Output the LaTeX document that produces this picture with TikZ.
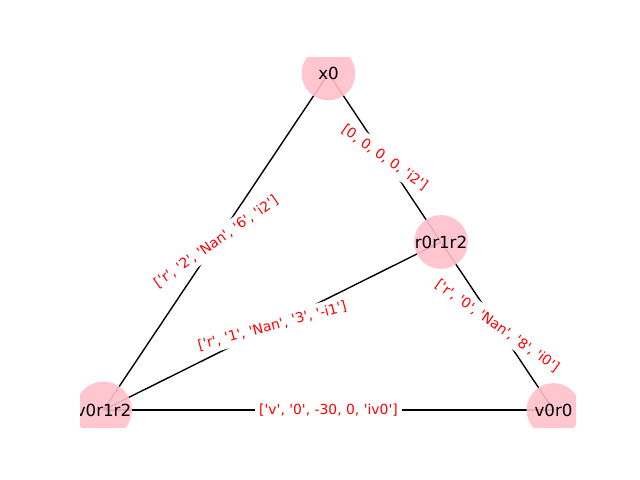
\documentclass[tikz,border=0pt]{standalone}
\usepackage{fontspec}
\setmainfont{DejaVu Sans}
\usetikzlibrary{backgrounds}
\definecolor{nodepink}{HTML}{FFC0CB}
\newcommand\qs{\textquotesingle}
\begin{document}
\begin{tikzpicture}[x=0.72pt,y=-0.72pt,
  nd/.style={circle, fill=nodepink, fill opacity=0.9, text opacity=1, minimum size=38.7pt, inner sep=0pt, font=\fontsize{12}{14}\selectfont},
  edge/.style={black, line width=1pt},
  lab/.style={text=red, fill=white, rounded corners=2pt, inner sep=3pt, font=\fontsize{10}{12}\selectfont}]
\useasboundingbox (0,0) rectangle (640,480);
\begin{scope}
\clip (80,57.5) rectangle (576,427);
\node[nd] (x0) at (328.5,73.5) {x0};
\node[nd] (r) at (441,242) {r0r1r2};
\node[nd] (v1) at (103.5,410) {v0r1r2};
\node[nd] (v0) at (553.5,410) {v0r0};
\end{scope}
\begin{scope}[on background layer]
\draw[edge] (x0.center) -- node[lab, midway, rotate=35.2] {[\qs r\qs, \qs 2\qs, \qs Nan\qs, \qs 6\qs, \qs i2\qs]} (v1.center);
\draw[edge] (x0.center) -- node[lab, midway, rotate=-35.5] {[0, 0, 0, 0, \qs i2\qs]} (r.center);
\draw[edge] (r.center) -- node[lab, midway, rotate=-35.3] {[\qs r\qs, \qs 0\qs, \qs Nan\qs, \qs 8\qs, \qs i0\qs]} (v0.center);
\draw[edge] (r.center) -- node[lab, midway, rotate=15] {[\qs r\qs, \qs 1\qs, \qs Nan\qs, \qs 3\qs, \qs -i1\qs]} (v1.center);
\draw[edge] (v1.center) -- node[lab, midway] {[\qs v\qs, \qs 0\qs, -30, 0, \qs iv0\qs]} (v0.center);
\end{scope}
\end{tikzpicture}
\end{document}
